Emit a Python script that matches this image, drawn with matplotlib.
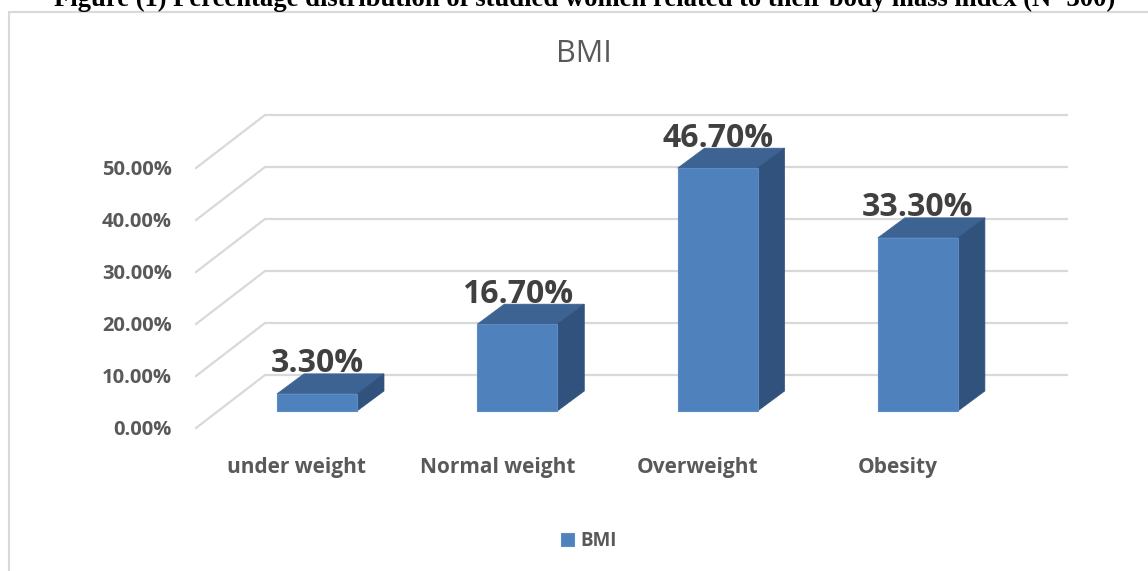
import matplotlib
matplotlib.use("Agg")
import matplotlib.pyplot as plt
from matplotlib.patches import Polygon, Rectangle

# BMI categories and share of studied women (%)
categories = ["under weight", "Normal weight", "Overweight", "Obesity"]
values = [3.3, 16.7, 46.7, 33.3]
ticks = [0, 10, 20, 30, 40, 50]
series_name = "BMI"

plt.rcParams["font.family"] = ["Open Sans", "DejaVu Sans"]

W, H = 1148, 571
fig = plt.figure(figsize=(W / 100, H / 100), dpi=100)
ax = fig.add_axes([0, 0, 1, 1])

# pixel scale of the chart: one category = 200.3 px, 1 % = 5.2 px
px_cat, px_pct = 200.3, 5.2
x0_px, y0_px = 317, 411
ax.set_xlim(-x0_px / px_cat, (W - x0_px) / px_cat)
ax.set_ylim(-(H - y0_px) / px_pct, y0_px / px_pct)
ax.axis("off")

# oblique 3-D offsets
front_dy, back_dy = -17 / px_pct, 36 / px_pct
wall_x0, wall_x1, wall_x2 = (196 - x0_px) / px_cat, (265 - x0_px) / px_cat, (1067 - x0_px) / px_cat
bar_w = 80 / px_cat
depth_dx, depth_dy = 27 / px_cat, 20 / px_pct

grid_col = "#d9d9d9"
for t in ticks:
    ax.plot([wall_x0, wall_x1, wall_x2], [t + front_dy, t + back_dy, t + back_dy],
            color=grid_col, lw=1.6, solid_joinstyle="miter", zorder=1)
    ax.text(-0.724, t + front_dy - 0.4, f"{t:.2f}%", ha="right", va="center",
            fontsize=14.5, fontweight="bold", color="#595959")

front_col, top_col, side_col = "#4f81bd", "#3c6391", "#31527c"
xs = list(range(len(values)))
bars = ax.bar(xs, values, width=bar_w, color=front_col, edgecolor="#5b8cc6",
              linewidth=0.8, zorder=3, label=series_name)
for x, v in zip(xs, values):
    l, r = x - bar_w / 2, x + bar_w / 2
    top = Polygon([(l, v), (r, v), (r + depth_dx, v + depth_dy), (l + depth_dx, v + depth_dy)],
                  closed=True, facecolor=top_col, edgecolor=top_col, lw=0.5, zorder=2)
    side = Polygon([(r, 0), (r + depth_dx, depth_dy), (r + depth_dx, v + depth_dy), (r, v)],
                   closed=True, facecolor=side_col, edgecolor=side_col, lw=0.5, zorder=2)
    ax.add_patch(top)
    ax.add_patch(side)
    ax.text(x, v + depth_dy + 0.3, f"{v:.2f}%", ha="center", va="baseline",
            fontsize=23, fontweight="bold", color="#404040", zorder=4)

for x, c in zip(xs, categories):
    ax.text(x - 0.1, -10.96, c, ha="center", va="center",
            fontsize=15, fontweight="bold", color="#595959")

ax.text(0.509, 0.905, "BMI", transform=fig.transFigure, ha="center", va="center",
        fontsize=22, color="#595959")

leg = fig.legend(handles=[bars], labels=[series_name], loc="center",
                 bbox_to_anchor=(589 / W, 1 - 541 / H), frameon=False,
                 handlelength=0.7, handleheight=0.7, handletextpad=0.35,
                 prop={"weight": "bold", "size": 13.5})
for txt in leg.get_texts():
    txt.set_color("#595959")

# chart area border (only the top and left edges fall inside the figure)
fig.patches.append(Rectangle((9 / W, -0.2), 1.5, 1 - 12 / H + 0.2, transform=fig.transFigure,
                             fill=False, edgecolor="#d9d9d9", lw=1.5))

fig.text(585 / W, 1 - 6 / H,
         "Figure (1) Percentage distribution of studied women related to their body mass index (N=300)",
         ha="center", va="baseline", fontsize=19.2, fontweight="bold",
         family=["Liberation Serif", "DejaVu Serif"], color="black")

fig.savefig("out.png", dpi=100)
